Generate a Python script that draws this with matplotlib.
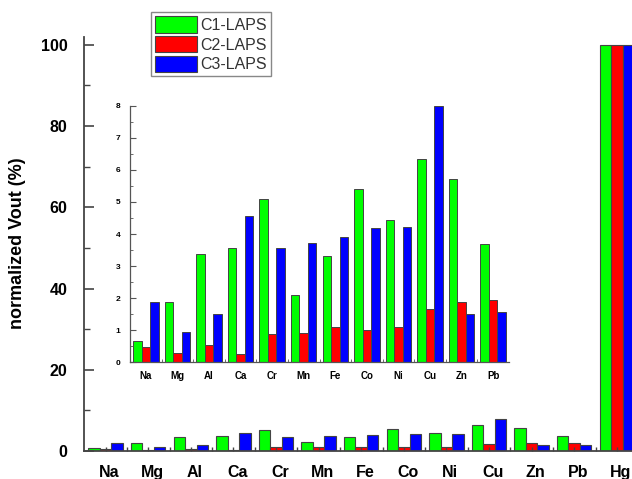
import numpy as np
import matplotlib
matplotlib.use('Agg')
import matplotlib.pyplot as plt
import matplotlib.transforms as mtransforms
from matplotlib.ticker import MultipleLocator

plt.rcParams['font.family'] = ['Liberation Sans', 'DejaVu Sans']

elements = ['Na', 'Mg', 'Al', 'Ca', 'Cr', 'Mn', 'Fe', 'Co', 'Ni', 'Cu', 'Zn', 'Pb', 'Hg']
c1 = [0.65, 1.87, 3.37, 3.58, 5.10, 2.10, 3.33, 5.42, 4.43, 6.33, 5.73, 3.70, 100]
c2 = [0.48, 0.30, 0.55, 0.25, 0.87, 0.90, 1.10, 1.00, 1.10, 1.65, 1.87, 1.93, 100]
c3 = [1.87, 0.95, 1.52, 4.55, 3.55, 3.73, 3.90, 4.20, 4.23, 8.00, 1.52, 1.58, 100]
labels = ['C1-LAPS', 'C2-LAPS', 'C3-LAPS']
colors = ['#00ff00', '#ff0000', '#0000ff']

W, H = 632, 479
fig = plt.figure(figsize=(W / 100, H / 100), dpi=100)

# main axes
ax = fig.add_axes([84.3 / W, 1 - 451 / H, 553.8 / W, (451 - 36.7) / H])
x = np.arange(len(elements))
bw = 0.27
handles = []
for i, (vals, lab, col) in enumerate(zip([c1, c2, c3], labels, colors)):
    b = ax.bar(x + (i - 1) * bw, vals, bw, color=col, edgecolor='#444444',
               linewidth=0.8, label=lab)
    handles.append(b)
ax.set_xlim(-0.5, 12.5)
ax.set_ylim(0, 102)
for s in ['top', 'right']:
    ax.spines[s].set_visible(False)
for s in ['left', 'bottom']:
    ax.spines[s].set_color('#444444')
    ax.spines[s].set_linewidth(1.3)
ax.yaxis.set_major_locator(MultipleLocator(20))
ax.yaxis.set_minor_locator(MultipleLocator(10))
ax.set_xticks(x)
ax.set_xticks(x[:-1] + 0.5, minor=True)
ax.set_xticklabels(elements)
ax.tick_params(axis='y', which='major', direction='in', length=7, width=1.2,
               color='#444444', pad=12, labelsize=11.5)
ax.tick_params(axis='y', which='minor', direction='in', length=4, width=1.0,
               color='#444444')
ax.tick_params(axis='x', which='both', direction='in', length=3, width=1.0,
               color='#444444', pad=10, labelsize=11.5)
for t in ax.get_yticklabels() + ax.get_xticklabels():
    t.set_fontweight('bold')
off = mtransforms.ScaledTranslation(4 / 100, 0, fig.dpi_scale_trans)
for t in ax.get_xticklabels():
    t.set_transform(t.get_transform() + off)

fig.text(18 / W, 1 - 243.5 / H, 'normalized Vout (%)', rotation=90,
         ha='center', va='center', fontsize=13, fontweight='bold')

# inset
ins = fig.add_axes([130 / W, 1 - 362.3 / H, 379 / W, (362.3 - 105.8) / H])
xi = np.arange(12)
for i, (vals, col) in enumerate(zip([c1, c2, c3], colors)):
    ins.bar(xi + (i - 1) * bw, vals[:12], bw, color=col, edgecolor='#444444',
            linewidth=0.7)
ins.set_xlim(-0.5, 11.5)
ins.set_ylim(0, 8)
for s in ['top', 'right']:
    ins.spines[s].set_visible(False)
for s in ['left', 'bottom']:
    ins.spines[s].set_color('#555555')
    ins.spines[s].set_linewidth(0.9)
ins.yaxis.set_major_locator(MultipleLocator(1))
ins.yaxis.set_minor_locator(MultipleLocator(0.5))
ins.set_xticks(xi)
ins.set_xticks(xi[:-1] + 0.5, minor=True)
ins.set_xticklabels(elements[:12])
ins.tick_params(axis='y', which='major', direction='in', length=4, width=0.8,
                color='#555555', pad=7, labelsize=6)
ins.tick_params(axis='y', which='minor', direction='in', length=2, width=0.6,
                color='#555555')
ins.tick_params(axis='x', which='major', length=0, pad=6, labelsize=7)
ins.tick_params(axis='x', which='minor', direction='in', length=2, width=0.6,
                color='#555555')
for t in ins.get_yticklabels() + ins.get_xticklabels():
    t.set_fontweight('bold')

leg = fig.legend(handles=handles, loc='upper left',
                 bbox_to_anchor=(151 / W, 1 - 12.3 / H), fontsize=11.5,
                 handlelength=2.6, handleheight=1.2, labelspacing=0.2,
                 handletextpad=0.25, borderpad=0.25, borderaxespad=0,
                 fancybox=False, edgecolor='#888888', framealpha=1)
for t in leg.get_texts():
    t.set_color('#333333')

fig.savefig('out.png', dpi=100)
